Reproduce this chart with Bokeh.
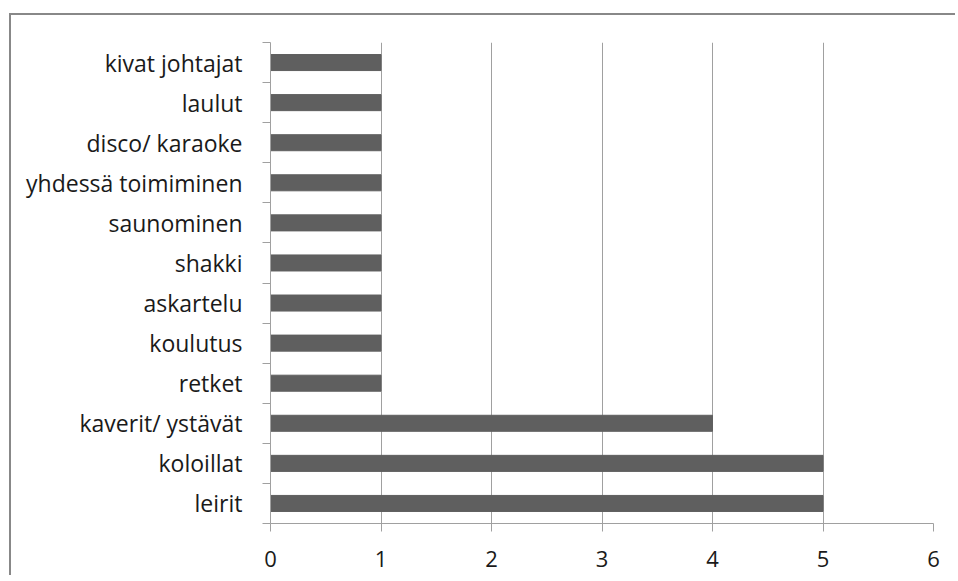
from bokeh.plotting import figure
from bokeh.models import FixedTicker, Range1d
from bokeh.embed import file_html
from bokeh.resources import INLINE

categories = ["leirit", "koloillat", "kaverit/ ystävät", "retket", "koulutus",
              "askartelu", "shakki", "saunominen", "yhdessä toimiminen",
              "disco/ karaoke", "laulut", "kivat johtajat"]
values = [5, 5, 4, 1, 1, 1, 1, 1, 1, 1, 1, 1]
x_ticks = [0, 1, 2, 3, 4, 5, 6]

positions = list(range(len(categories)))

p = figure(width=946, height=562, output_backend="svg", toolbar_location=None,
           x_range=Range1d(0, 6), y_range=Range1d(-0.5, len(categories) - 0.5),
           min_border_left=259, min_border_right=24, min_border_top=27,
           min_border_bottom=54)
p.styles = {"border-top": "2px solid #888888", "border-left": "2px solid #888888",
            "margin-top": "13px", "margin-left": "9px"}

p.hbar(y=positions, right=values, left=0, height=0.4, color="#5f5f5f")

p.outline_line_color = None
p.background_fill_color = "white"
p.border_fill_color = "white"

font = "Open Sans"
# x axis
p.xaxis.ticker = FixedTicker(ticks=x_ticks)
p.xaxis.axis_line_color = "#a0a0a0"
p.xaxis.major_tick_line_color = "#a0a0a0"
p.xaxis.major_tick_out = 8
p.xaxis.major_tick_in = 0
p.xaxis.minor_tick_line_color = None
p.xaxis.major_label_text_font = font
p.xaxis.major_label_text_font_size = "22px"
p.xaxis.major_label_text_color = "#1a1a1a"
p.xaxis.major_label_standoff = 19

# y axis
p.yaxis.ticker = FixedTicker(ticks=positions,
                             minor_ticks=[i - 0.5 for i in range(len(categories) + 1)])
p.yaxis.major_label_overrides = {i: c for i, c in zip(positions, categories)}
p.yaxis.axis_line_color = "#a0a0a0"
p.yaxis.major_tick_line_color = None
p.yaxis.major_tick_out = 0
p.yaxis.major_tick_in = 0
p.yaxis.minor_tick_line_color = "#a0a0a0"
p.yaxis.minor_tick_out = 8
p.yaxis.minor_tick_in = 0
p.yaxis.major_label_text_font = font
p.yaxis.major_label_text_font_size = "23px"
p.yaxis.major_label_text_color = "#1a1a1a"
p.yaxis.major_label_standoff = 20

p.xgrid.ticker = FixedTicker(ticks=x_ticks)
p.xgrid.grid_line_color = "#a0a0a0"
p.ygrid.grid_line_color = None

open("out.html", "w").write(file_html(p, INLINE))
